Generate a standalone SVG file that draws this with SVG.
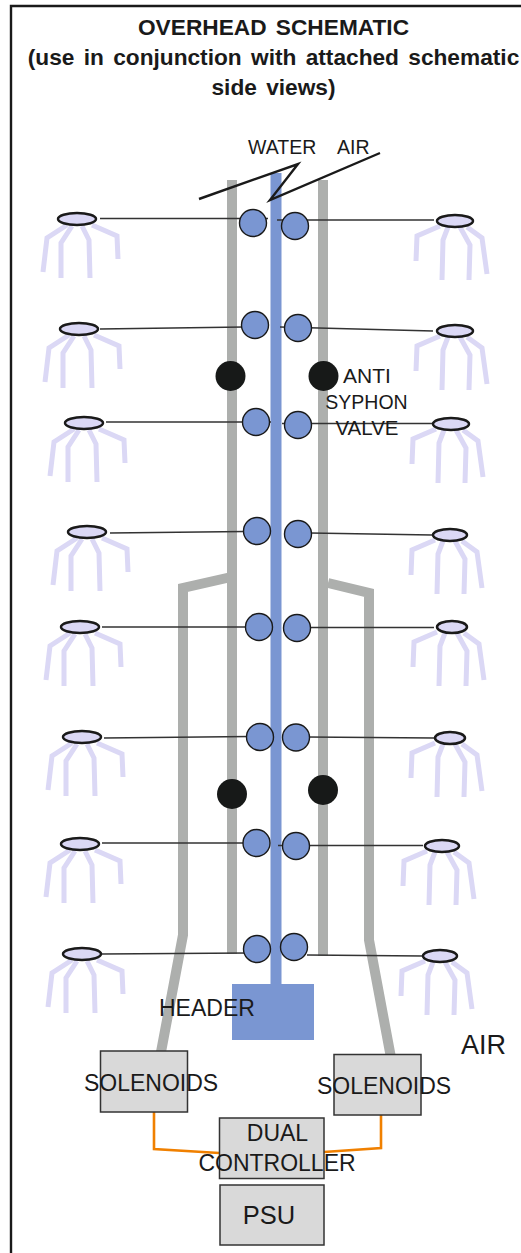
<svg xmlns="http://www.w3.org/2000/svg" width="521" height="1253" viewBox="0 0 521 1253">
<style>
text{font-family:"Liberation Sans",Arial,sans-serif;fill:#1a1a1a}
.t{font-weight:bold;font-size:22.700px;text-anchor:middle;word-spacing:3px}
.w{font-size:19.500px}
.l{font-size:23px}
.c{text-anchor:middle}
.air{fill:none;stroke:#adafad;stroke-width:10}
.sig{fill:none;stroke:#333;stroke-width:1.4}
.v{fill:#7a96d2;stroke:#1a1a1a;stroke-width:1.4}
.b{fill:#171918}
.box{fill:#d9d9d9;stroke:#333;stroke-width:1.5}
.o{fill:none;stroke:#f08000;stroke-width:2.6}
.leg{fill:none;stroke:#dbd8f5;stroke-width:5}
.noz{fill:#dbd8f5;stroke:#1a1a1a;stroke-width:2.500}
</style>
<defs>
<g id="sprayL"><path class="leg" d="M-10 6L-30 19L-34 53M-5 7L-16 24L-16 59M5 7L12 21L13 59M15 6L40 17L41 40"/></g>
<g id="sprayR"><path class="leg" d="M-15 5L-38 15L-39 40M-7 6L-12 19L-13 59M5 6L15 24L14 59M12 6L27 17L32 53"/></g>
</defs>
<path id="frame" d="M11 1253V6H521" fill="none" stroke="#1a1a1a" stroke-width="2.400"/>
<g id="title">
<text class="t" x="273.500" y="35">OVERHEAD SCHEMATIC</text>
<text class="t" x="273.500" y="65">(use in conjunction with attached schematic</text>
<text class="t" x="273.500" y="95">side views)</text>
</g>
<g id="connectors">
<path class="air" d="M232 180V954M323 180V956"/>
<path class="air" d="M229 577.500L183 588V935L161 1052M328 583L369 593V940L390.500 1055"/>
<path d="M276 173V985" fill="none" stroke="#7a96d2" stroke-width="11"/>
<path d="M199 199L298 164L270 200L380 153" fill="none" stroke="#1a1a1a" stroke-width="2.400"/>
<path class="sig" d="M100 218.500H268M277 220H434M100 329L244 327M280 327L433 331M106 422H271M282 423.500H432M110 533L245 531.500M310 533L432 535M102 627H248M308 627.500H434M104 738L250 736.500M307 737L434 738M102 843H247M278 845.500H423M102 954L248 953M307 955L423 956"/>
<path class="o" d="M154 1112V1149L219 1153M381 1115V1148L324 1152"/>
</g>
<g id="nozzles-left">
<g id="nl1" transform="translate(77 219)"><use href="#sprayL"/><ellipse class="noz" rx="19" ry="6"/></g>
<g id="nl2" transform="translate(79 329)"><use href="#sprayL"/><ellipse class="noz" rx="19" ry="6"/></g>
<g id="nl3" transform="translate(84 423)"><use href="#sprayL"/><ellipse class="noz" rx="19" ry="6"/></g>
<g id="nl4" transform="translate(87 532)"><use href="#sprayL"/><ellipse class="noz" rx="19" ry="6"/></g>
<g id="nl5" transform="translate(80 627)"><use href="#sprayL"/><ellipse class="noz" rx="19" ry="6"/></g>
<g id="nl6" transform="translate(82 737)"><use href="#sprayL"/><ellipse class="noz" rx="19" ry="6"/></g>
<g id="nl7" transform="translate(80 844)"><use href="#sprayL"/><ellipse class="noz" rx="19" ry="6"/></g>
<g id="nl8" transform="translate(82 954)"><use href="#sprayL"/><ellipse class="noz" rx="19" ry="6"/></g>
</g>
<g id="nozzles-right">
<g id="nr1" transform="translate(455 221)"><use href="#sprayR"/><ellipse class="noz" rx="18" ry="6"/></g>
<g id="nr2" transform="translate(455 331)"><use href="#sprayR"/><ellipse class="noz" rx="18" ry="6"/></g>
<g id="nr3" transform="translate(451 424)"><use href="#sprayR"/><ellipse class="noz" rx="18" ry="6"/></g>
<g id="nr4" transform="translate(450 535)"><use href="#sprayR"/><ellipse class="noz" rx="17" ry="6"/></g>
<g id="nr5" transform="translate(452 627)"><use href="#sprayR"/><ellipse class="noz" rx="15" ry="6"/></g>
<g id="nr6" transform="translate(450 738)"><use href="#sprayR"/><ellipse class="noz" rx="15" ry="6"/></g>
<g id="nr7" transform="translate(442 846)"><use href="#sprayR"/><ellipse class="noz" rx="17" ry="6"/></g>
<g id="nr8" transform="translate(440 956)"><use href="#sprayR"/><ellipse class="noz" rx="17" ry="6"/></g>
</g>
<g id="valves">
<circle class="v" cx="253" cy="223" r="13.500"/><circle class="v" cx="295" cy="226" r="13.500"/>
<circle class="v" cx="255" cy="325" r="13.500"/><circle class="v" cx="298" cy="328" r="13.500"/>
<circle class="v" cx="256" cy="422" r="13.500"/><circle class="v" cx="298" cy="425" r="13.500"/>
<circle class="v" cx="257" cy="531" r="13.500"/><circle class="v" cx="298" cy="534" r="13.500"/>
<circle class="v" cx="259" cy="627" r="13.500"/><circle class="v" cx="297" cy="628" r="13.500"/>
<circle class="v" cx="260" cy="737" r="13.500"/><circle class="v" cx="296" cy="737.500" r="13.500"/>
<circle class="v" cx="256.500" cy="843" r="13.500"/><circle class="v" cx="296" cy="846" r="13.500"/>
<circle class="v" cx="257" cy="949" r="13.500"/><circle class="v" cx="294" cy="947" r="13.500"/>
</g>
<g id="anti-syphon">
<circle class="b" cx="230.500" cy="376" r="15"/><circle class="b" cx="323.500" cy="376" r="15"/>
<circle class="b" cx="232" cy="794" r="15"/><circle class="b" cx="323" cy="790" r="15"/>
</g>
<g id="header"><rect x="232" y="984" width="82" height="56" fill="#7a96d2"/><text class="l" x="159" y="1016">HEADER</text></g>
<g id="sol-left"><rect class="box" x="100.500" y="1051" width="87" height="61"/><text class="l" x="84" y="1091">SOLENOIDS</text></g>
<g id="sol-right"><rect class="box" x="334" y="1054.500" width="87" height="60.500"/><text class="l" x="317" y="1094">SOLENOIDS</text></g>
<g id="controller"><rect class="box" x="219.500" y="1118" width="104.500" height="60.500"/><text class="l c" x="277.500" y="1141">DUAL</text><text class="l c" x="277" y="1171">CONTROLLER</text></g>
<g id="psu"><rect class="box" x="220" y="1185" width="104" height="60"/><text x="269" y="1224" font-size="25.500" text-anchor="middle">PSU</text></g>
<text class="w" x="248" y="154">WATER</text>
<text class="w" x="337" y="154">AIR</text>
<text class="w c" x="367" y="383" style="font-size:21px">ANTI</text>
<text class="w c" x="366.500" y="409">SYPHON</text>
<text class="w c" x="367" y="435" style="font-size:20.500px">VALVE</text>
<text x="461" y="1054" font-size="27">AIR</text>
</svg>
